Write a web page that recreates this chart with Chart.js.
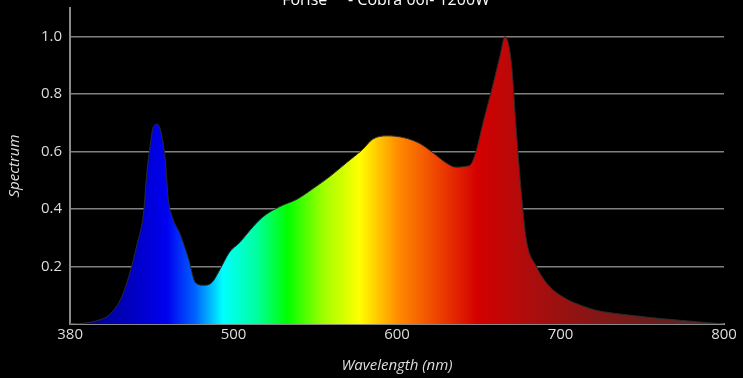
<!DOCTYPE html>
<html>
<head>
<meta charset="utf-8">
<script src="https://cdn.jsdelivr.net/npm/chart.js@4/dist/chart.umd.min.js"></script>
<style>
  html, body { margin: 0; padding: 0; background: #000; }
</style>
</head>
<body>
<canvas id="spectrumChart" width="743" height="378"></canvas>
<script>
// Chart title (top of it is cut off in the original)
const titleText = 'Forise     - Cobra 06I- 1200W';

// Wavelength tick labels (drawn equally spaced on the axis)
const tickLabels = [380, 500, 600, 700, 800];
const yTicks = [0.2, 0.4, 0.6, 0.8, 1.0];

// Spectrum samples (nm -> relative intensity)
const wavelengths = [380, 388, 395, 402, 409, 417, 424, 429, 434, 436, 439, 441, 444, 447, 450,
    452, 455, 461, 467, 472, 478, 484, 490, 497, 504, 510, 518, 528, 539, 549, 559, 569, 579,
    585, 594, 604, 614, 622, 630, 636, 642, 645, 648, 653, 659, 663, 666, 670, 673, 676, 679,
    685, 693, 704, 712, 718, 724, 742, 763, 783, 800];
const spectrum = [0, 0.002, 0.006, 0.015, 0.033, 0.085, 0.18, 0.275, 0.39, 0.51, 0.63, 0.685, 0.696, 0.662, 0.567,
    0.438, 0.373, 0.31, 0.226, 0.144, 0.135, 0.144, 0.19, 0.25, 0.285, 0.326, 0.373, 0.408, 0.435, 0.473, 0.514, 0.561, 0.608,
    0.643, 0.655, 0.649, 0.628, 0.596, 0.561, 0.546, 0.549, 0.555, 0.595, 0.71, 0.84, 0.935, 1.0, 0.908, 0.673, 0.461, 0.297,
    0.203, 0.133, 0.086, 0.066, 0.054, 0.045, 0.031, 0.018, 0.008, 0];

// colour of the fill at a given wavelength
const colourStops = [
    [380, '#000060'], [395, '#000090'], [424, '#0000c0'], [451, '#0000f0'], [472, '#0064ff'],
    [492, '#00ffff'], [514, '#00ffa0'], [533, '#00ff00'], [555, '#a0ff00'], [577, '#ffff00'],
    [601, '#ff8a00'], [623, '#f04800'], [649, '#d40000'], [680, '#ae0c0c'], [721, '#861616'],
    [762, '#661e1e'], [800, '#503030']
];

// the axis is spaced by tick index, so map nm onto that
function axisPos(nm) {
    for (let i = 0; i < tickLabels.length - 1; i++) {
        if (nm <= tickLabels[i + 1]) {
            return i + (nm - tickLabels[i]) / (tickLabels[i + 1] - tickLabels[i]);
        }
    }
    return tickLabels.length - 1;
}

function spectrumFill(context) {
    const chart = context.chart;
    const area = chart.chartArea;
    if (!area) return null;
    const xScale = chart.scales.x;
    const g = chart.ctx.createLinearGradient(area.left, 0, area.right, 0);
    colourStops.forEach(([nm, c]) => {
        let f = (xScale.getPixelForValue(axisPos(nm)) - area.left) / (area.right - area.left);
        g.addColorStop(Math.min(1, Math.max(0, f)), c);
    });
    return g;
}

const topTitle = {
    id: 'topTitle',
    afterDraw(chart) {
        const c = chart.ctx;
        c.save();
        c.font = "16px 'Open Sans'";
        c.fillStyle = '#ffffff';
        c.textAlign = 'center';
        c.textBaseline = 'alphabetic';
        c.fillText(titleText, 386, 5);
        c.restore();
    }
};

Chart.defaults.font.family = "'Open Sans', sans-serif";
Chart.defaults.color = '#dddddd';

new Chart(document.getElementById('spectrumChart'), {
    type: 'line',
    data: {
        datasets: [{
            data: wavelengths.map((w, i) => ({ x: axisPos(w), y: spectrum[i] })),
            fill: 'origin',
            backgroundColor: spectrumFill,
            borderColor: '#2a2a2a',
            borderWidth: 1,
            pointRadius: 0,
            cubicInterpolationMode: 'monotone'
        }]
    },
    options: {
        responsive: false,
        animation: false,
        layout: { padding: { top: 8, right: 19, left: 6, bottom: 0 } },
        plugins: {
            legend: { display: false },
            tooltip: { enabled: false }
        },
        scales: {
            x: {
                type: 'linear',
                min: 0,
                max: tickLabels.length - 1,
                afterBuildTicks: axis => { axis.ticks = tickLabels.map((t, i) => ({ value: i })); },
                ticks: {
                    callback: (v, i) => tickLabels[i],
                    font: { size: 15 },
                    padding: -6,
                    maxRotation: 0
                },
                grid: { display: false },
                border: { color: '#8a8a8a', width: 2 },
                title: {
                    display: true,
                    text: 'Wavelength (nm)',
                    font: { size: 15, style: 'italic' },
                    padding: { top: 19, bottom: 3 }
                }
            },
            y: {
                min: 0,
                max: 1.1,
                afterBuildTicks: axis => { axis.ticks = yTicks.map(v => ({ value: v })); },
                // top label is well below the top edge, no need for extra room
                afterFit: axis => { axis.paddingTop = 0; },
                ticks: {
                    callback: v => v.toFixed(1),
                    font: { size: 15 },
                    padding: 8
                },
                grid: { color: '#808080', lineWidth: 1.5, drawTicks: false },
                border: { color: '#8a8a8a', width: 2 },
                title: {
                    display: true,
                    text: 'Spectrum',
                    font: { size: 15, style: 'italic' },
                    padding: { top: 0, bottom: 9 }
                }
            }
        }
    },
    plugins: [topTitle]
});
</script>
</body>
</html>
